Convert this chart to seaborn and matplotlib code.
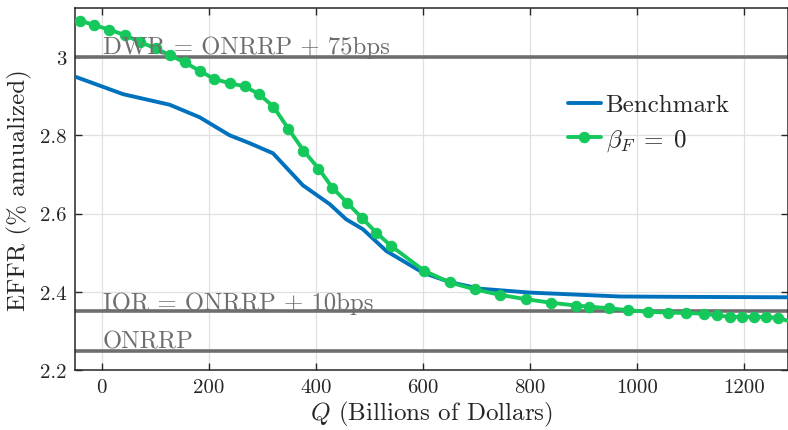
import numpy as np
import pandas as pd
import matplotlib
matplotlib.use("Agg")
import matplotlib.pyplot as plt
import seaborn as sns

# ---- data ----
bench_q = [-50, 40, 127, 183, 239, 276, 320, 348, 376, 426, 457, 488, 532, 600, 650, 706, 800, 968, 1100, 1290]
bench_effr = [2.950, 2.905, 2.878, 2.846, 2.800, 2.780, 2.754, 2.713, 2.672, 2.624, 2.585, 2.560, 2.504,
              2.449, 2.425, 2.408, 2.398, 2.388, 2.387, 2.386]

beta_q = [-41, -15, 14, 43, 72, 101, 127, 155, 184, 210, 239, 267, 294, 321, 349, 377, 405, 431, 459,
          486, 513, 540, 602, 650, 698, 745, 793, 840, 886, 911, 947, 983, 1021, 1057, 1092, 1126,
          1149, 1173, 1196, 1218, 1240, 1263, 1295]
beta_effr = [3.093, 3.082, 3.070, 3.056, 3.038, 3.022, 3.005, 2.986, 2.964, 2.944, 2.933, 2.925, 2.905,
             2.873, 2.816, 2.761, 2.715, 2.666, 2.627, 2.589, 2.551, 2.518, 2.454, 2.424, 2.406, 2.392,
             2.381, 2.372, 2.365, 2.362, 2.358, 2.353, 2.349, 2.347, 2.346, 2.344, 2.340, 2.336, 2.336,
             2.336, 2.335, 2.334, 2.320]

ref_levels = [3.00, 2.35, 2.25]
ref_labels = ["DWR = ONRRP + 75bps", "IOR = ONRRP + 10bps", "ONRRP"]

x_ticks = [0, 200, 400, 600, 800, 1000, 1200]
y_ticks = [2.2, 2.4, 2.6, 2.8, 3.0]
y_tick_labels = ["2.2", "2.4", "2.6", "2.8", "3"]

# ---- style ----
sns.set_theme(style="ticks")
plt.rcParams["font.family"] = ["cmr10"]
plt.rcParams["mathtext.fontset"] = "cm"
plt.rcParams["axes.formatter.use_mathtext"] = True
plt.rcParams["axes.unicode_minus"] = False

BLUE = "#0072BD"
GREEN = "#14C85C"
GRAY = "#6E6E6E"

fig = plt.figure(figsize=(7.88, 4.31), dpi=100)
ax = fig.add_axes([0.095, 0.139, 0.905, 0.840])

bench_df = pd.DataFrame({"Q": bench_q, "EFFR": bench_effr})
beta_df = pd.DataFrame({"Q": beta_q, "EFFR": beta_effr})

for lvl in ref_levels:
    ax.axhline(lvl, color=GRAY, lw=2.6, zorder=2)

sns.lineplot(data=bench_df, x="Q", y="EFFR", ax=ax, color=BLUE, lw=2.8,
             label="Benchmark", zorder=3, sort=False)
sns.lineplot(data=beta_df, x="Q", y="EFFR", ax=ax, color=GREEN, lw=2.8, marker="o",
             markersize=7.5, markeredgecolor=GREEN, label=r"$\beta_F\;=\;0$", zorder=4, sort=False)

offsets = [0.009, 0.007, 0.007]
for lvl, lab, off in zip(ref_levels, ref_labels, offsets):
    ax.text(2, lvl + off, lab, color=GRAY, fontsize=17.8, ha="left", va="baseline", zorder=5)

ax.set_xlim(-50, 1282)
ax.set_ylim(2.2, 3.125)
ax.set_xticks(x_ticks)
ax.set_xticklabels([str(t) for t in x_ticks])
ax.set_yticks(y_ticks)
ax.set_yticklabels(y_tick_labels)
ax.grid(True, color="#E0E0E0", lw=0.9)
ax.set_axisbelow(True)

ax.tick_params(direction="in", length=5, width=1, top=True, right=True,
               labelsize=15, colors="#262626", pad=6)
for s in ax.spines.values():
    s.set_color("#262626")
    s.set_linewidth(1.1)

ax.set_xlabel(r"$Q$ (Billions of Dollars)", fontsize=18, color="#262626", labelpad=2)
ax.set_ylabel("EFFR (% annualized)", fontsize=18, color="#262626", labelpad=6)

leg = ax.legend(loc="upper left", bbox_to_anchor=(0.66, 0.825), frameon=False, fontsize=18,
                handlelength=1.3, handletextpad=0.2, labelspacing=0.45)

fig.savefig("out.png", dpi=100)
